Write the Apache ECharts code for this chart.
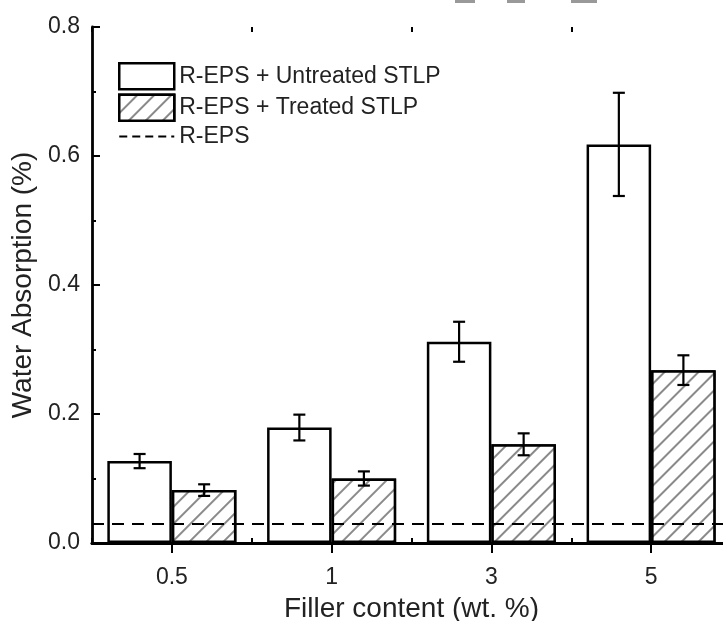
<!DOCTYPE html>
<html>
<head>
<meta charset="utf-8">
<script src="https://cdn.jsdelivr.net/npm/echarts@6/dist/echarts.min.js"></script>
<style>
  html, body { margin: 0; padding: 0; background: #fff; }
  #chart { width: 723px; height: 621px; }
</style>
</head>
<body>
<div id="chart"></div>
<script>
const categories = ['0.5', '1', '3', '5'];
const untreated = [0.127, 0.179, 0.312, 0.618];
const untreatedErr = [0.011, 0.020, 0.031, 0.080];
const treated = [0.082, 0.100, 0.153, 0.268];
const treatedErr = [0.009, 0.011, 0.017, 0.023];
const repsLevel = 0.026;
const yTicks = [0, 0.2, 0.4, 0.6, 0.8];

const font = "'Liberation Sans', Arial, sans-serif";
const textColor = '#222';
const barFrac = 0.404; // share of a category band taken by one bar

// error bars drawn next to each bar of the group
function errorSeries(name, values, errs, side) {
  return {
    name: name + ' err',
    type: 'custom',
    z: 5,
    silent: true,
    data: values.map((v, i) => [i, v - errs[i], v + errs[i]]),
    renderItem: (params, api) => {
      const band = api.size([1, 0])[0];
      const dx = side * band * barFrac / 2;
      const lo = api.coord([api.value(0), api.value(1)]);
      const hi = api.coord([api.value(0), api.value(2)]);
      const x = lo[0] + dx;
      const cap = 6;
      const style = { stroke: '#000', lineWidth: 2.2 };
      return {
        type: 'group',
        children: [
          { type: 'line', shape: { x1: x, y1: lo[1], x2: x, y2: hi[1] }, style },
          { type: 'line', shape: { x1: x - cap, y1: lo[1], x2: x + cap, y2: lo[1] }, style },
          { type: 'line', shape: { x1: x - cap, y1: hi[1], x2: x + cap, y2: hi[1] }, style }
        ]
      };
    }
  };
}

const chart = echarts.init(document.getElementById('chart'));

chart.setOption({
  backgroundColor: '#fff',
  animation: false,
  textStyle: { fontFamily: font, color: textColor },
  grid: { left: 92, top: 27, width: 639, height: 516, outerBoundsMode: 'none', containLabel: false },
  legend: {
    orient: 'vertical',
    left: 113,
    top: 57,
    itemWidth: 55,
    itemHeight: 26,
    itemGap: 3,
    itemStyle: { borderColor: '#000', borderWidth: 2.5 },
    textStyle: { fontSize: 23, color: textColor, fontFamily: font },
    data: [
      { name: 'R-EPS + Untreated STLP', icon: 'rect' },
      { name: 'R-EPS + Treated STLP', icon: 'rect' },
      {
        name: 'R-EPS',
        itemStyle: { color: 'transparent', borderWidth: 0, opacity: 0 },
        lineStyle: { color: '#000', width: 2, type: [8, 5] }
      }
    ]
  },
  xAxis: [
    {
      type: 'category',
      data: categories,
      position: 'bottom',
      axisLine: { lineStyle: { color: '#000', width: 2.8 } },
      axisTick: { show: true, inside: true, length: 5, alignWithLabel: false, lineStyle: { color: '#000', width: 2 } },
      axisLabel: { fontSize: 23, color: textColor, margin: 23 },
      name: 'Filler content (wt. %)',
      nameLocation: 'middle',
      nameGap: 52,
      nameTextStyle: { fontSize: 28, color: textColor }
    },
    {
      type: 'category',
      data: categories,
      position: 'top',
      axisLine: { lineStyle: { color: '#000', width: 2.8 } },
      axisTick: { show: true, inside: true, length: 10, alignWithLabel: true, lineStyle: { color: '#000', width: 2 } },
      axisLabel: { show: false }
    },
    {
      type: 'category',
      data: categories,
      position: 'top',
      axisLine: { show: false },
      axisTick: { show: true, inside: true, length: 5, alignWithLabel: false, lineStyle: { color: '#000', width: 2 } },
      axisLabel: { show: false }
    }
  ],
  yAxis: [
    {
      type: 'value',
      min: yTicks[0],
      max: yTicks[yTicks.length - 1],
      interval: 0.2,
      axisLine: { show: true, lineStyle: { color: '#000', width: 2.8 } },
      axisTick: { show: true, inside: true, length: 8, lineStyle: { color: '#000', width: 2 } },
      minorTick: { show: true, splitNumber: 2, length: 4, lineStyle: { color: '#000', width: 2 } },
      splitLine: { show: false },
      axisLabel: { fontSize: 23, color: textColor, margin: 12, formatter: v => v.toFixed(1) },
      name: 'Water Absorption (%)',
      nameLocation: 'middle',
      nameGap: 46,
      nameTextStyle: { fontSize: 28, color: textColor }
    },
    {
      type: 'value',
      position: 'right',
      min: yTicks[0],
      max: yTicks[yTicks.length - 1],
      interval: 0.2,
      axisLine: { show: true, lineStyle: { color: '#000', width: 2.8 } },
      axisTick: { show: true, inside: true, length: 8, lineStyle: { color: '#000', width: 2 } },
      splitLine: { show: false },
      axisLabel: { show: false }
    }
  ],
  series: [
    {
      name: 'R-EPS + Untreated STLP',
      type: 'bar',
      data: untreated,
      barWidth: (barFrac * 100) + '%',
      barGap: '0%',
      itemStyle: { color: '#fff', borderColor: '#000', borderWidth: 2.5 }
    },
    {
      name: 'R-EPS + Treated STLP',
      type: 'bar',
      data: treated,
      barWidth: (barFrac * 100) + '%',
      barGap: '0%',
      itemStyle: {
        color: '#fff',
        borderColor: '#000',
        borderWidth: 2.5,
        decal: {
          symbol: 'rect',
          symbolSize: 1,
          color: '#8a8a8a',
          backgroundColor: '#fff',
          dashArrayX: [1, 0],
          dashArrayY: [1.2, 10],
          rotation: -Math.PI / 4
        }
      }
    },
    {
      name: 'R-EPS',
      type: 'line',
      data: [],
      symbol: 'none',
      showSymbol: false,
      lineStyle: { color: '#000', width: 2, type: [8, 5] },
      itemStyle: { color: '#000' },
      markLine: {
        silent: true,
        symbol: 'none',
        label: { show: false },
        lineStyle: { color: '#000', width: 2.2, type: [12, 8] },
        data: [{ yAxis: repsLevel }]
      },
      z: 4
    },
    errorSeries('untreated', untreated, untreatedErr, -1),
    errorSeries('treated', treated, treatedErr, 1)
  ],
  graphic: [
    { type: 'rect', shape: { x: 455, y: 0, width: 20, height: 3 }, style: { fill: '#999' } },
    { type: 'rect', shape: { x: 507, y: 0, width: 18, height: 3 }, style: { fill: '#999' } },
    { type: 'rect', shape: { x: 571, y: 0, width: 26, height: 3 }, style: { fill: '#999' } }
  ]
});
</script>
</body>
</html>
